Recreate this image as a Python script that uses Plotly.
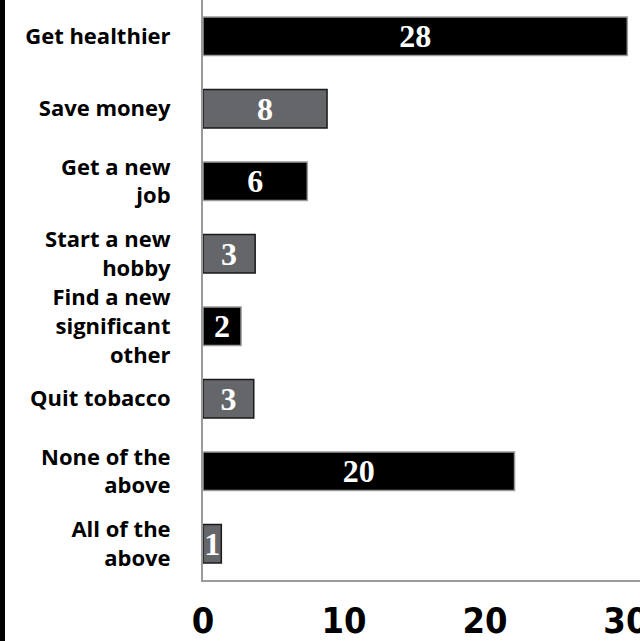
import plotly.graph_objects as go

# categories, top to bottom
goals = [
    "Get healthier",
    "Save money",
    "Get a new<br>job",
    "Start a new<br>hobby",
    "Find a new<br>significant<br>other",
    "Quit tobacco",
    "None of the<br>above",
    "All of the<br>above",
]
# bar lengths as drawn against the axis
bar_len = [30.1, 8.8, 7.4, 3.7, 2.7, 3.6, 22.1, 1.3]
# numbers printed inside the bars
counts = ["28", "8", "6", "3", "2", "3", "20", "1"]
x_ticks = [0, 10, 20, 30]

fill = ["#000000" if i % 2 == 0 else "#65666a" for i in range(len(goals))]
edge = ["#9a9a9a" if i % 2 == 0 else "#1a1a1a" for i in range(len(goals))]

fig = go.Figure(
    go.Bar(
        x=bar_len,
        y=goals,
        orientation="h",
        text=counts,
        textposition="inside",
        insidetextanchor="middle",
        constraintext="none",
        textangle=0,
        textfont=dict(family="Liberation Serif, DejaVu Serif", size=32,
                      color="white", weight="bold"),
        marker=dict(color=fill, line=dict(color=edge, width=1.5)),
        hoverinfo="skip",
    )
)

fig.update_xaxes(
    range=[0, 31],
    tickvals=x_ticks,
    automargin=False,
    ticklabeloverflow="allow",
    showgrid=False,
    zeroline=False,
    showline=True,
    linecolor="#9a9a9a",
    linewidth=2,
    ticks="",
    ticklabelstandoff=8,
    tickfont=dict(family="DejaVu Sans Condensed, DejaVu Sans", size=36,
                  color="black", weight="bold"),
)
fig.update_yaxes(
    autorange="reversed",
    automargin=False,
    showgrid=False,
    zeroline=False,
    showline=True,
    linecolor="#9a9a9a",
    linewidth=2,
    ticks="",
    ticklabelstandoff=26,
    tickfont=dict(family="Open Sans, Noto Sans", size=22, color="black",
                  weight="bold"),
)

# heavy black rule down the left edge of the picture
fig.add_shape(type="line", xref="paper", yref="paper",
              x0=-0.4588, x1=-0.4588, y0=-0.11, y1=1.0,
              line=dict(color="black", width=5))

fig.update_layout(
    width=640,
    height=641,
    margin=dict(l=203, r=0, t=0, b=61),
    bargap=0.47,
    plot_bgcolor="white",
    paper_bgcolor="white",
    showlegend=False,
)

# drop the browser's default page margin so the chart sits at the corner
fig.write_html("out.html", config={"displayModeBar": False},
               post_script="document.body.style.margin='0';")
